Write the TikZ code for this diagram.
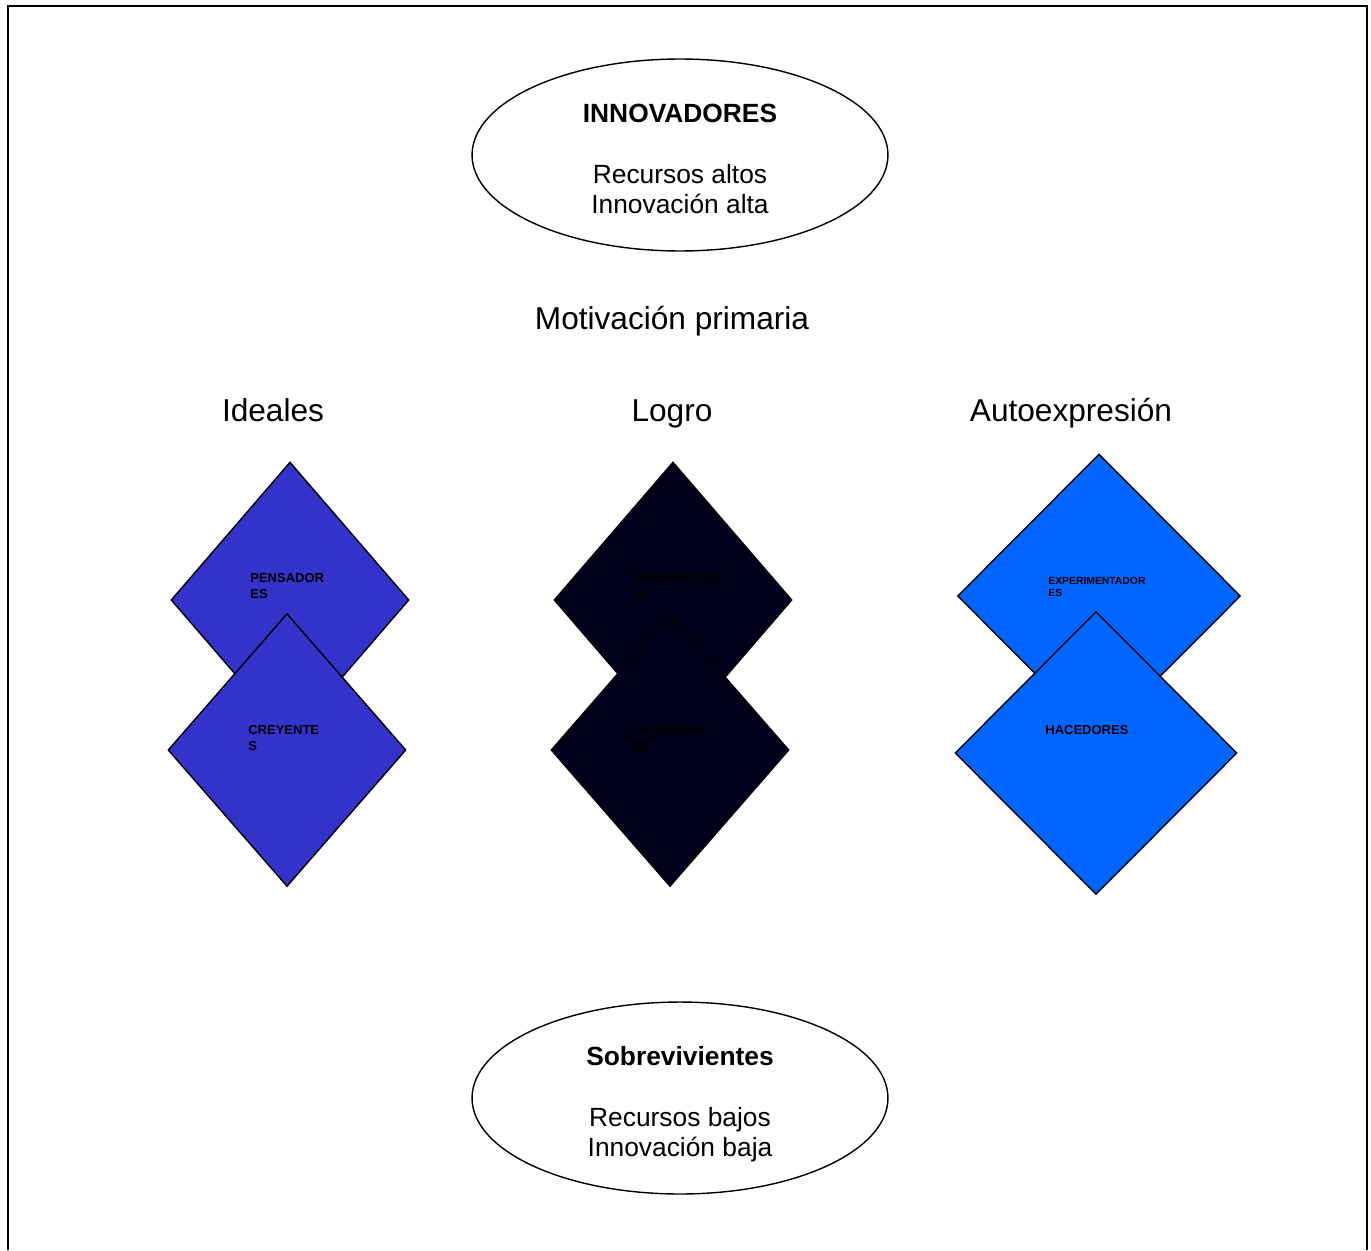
\documentclass[tikz,border=0pt]{standalone}
\usepackage{fontspec}
\setmainfont{Liberation Sans}
\usetikzlibrary{shapes.geometric}
\definecolor{ideales}{HTML}{3333CC}
\definecolor{logro}{HTML}{00001A}
\definecolor{autoexp}{HTML}{0066FF}
\begin{document}
\begin{tikzpicture}[x=0.02cm,y=-0.02cm,
  segmento/.style={ellipse,draw,line width=0.8pt,minimum width=8.32cm,minimum height=3.84cm},
  segtexto/.style={align=center,font=\fontsize{15}{17}\selectfont},
  titulo/.style={anchor=base,font=\fontsize{18}{21}\selectfont},
  rombo/.style={diamond,draw,line width=0.8pt,inner sep=0pt},
  tipo/.style={anchor=north west,inner sep=0pt,align=left,font=\fontsize{7.4}{9.1}\selectfont\bfseries}]
  \useasboundingbox (0,0) rectangle (1371,1250);
  \draw[line width=1.1pt] (8,1250) -- (8,6) -- (1367,6) -- (1367,1250);

  \node[segmento] (innov) at (680,155) {};
  \node[segtexto] (innovT) at (680,159) {\textbf{INNOVADORES}\\[18pt]Recursos altos\\Innovación alta};
  \node[segmento] (sobre) at (680,1098) {};
  \node[segtexto] (sobreT) at (680,1104) {\textbf{Sobrevivientes}\\[18pt]Recursos bajos\\Innovación baja};

  \node[titulo] (motiv) at (672,329) {Motivación primaria};
  \node[titulo] (ideal) at (273,421) {Ideales};
  \node[titulo] (logro) at (672,421) {Logro};
  \node[titulo] (autoe) at (1071,421) {Autoexpresión};

  \node[rombo,fill=ideales,minimum width=4.76cm,minimum height=5.52cm] (pens) at (290,600) {};
  \node[rombo,fill=ideales,minimum width=4.76cm,minimum height=5.46cm] (crey) at (287,750) {};
  \node[rombo,fill=logro,minimum width=4.76cm,minimum height=5.52cm] (triu) at (673,600) {};
  \node[rombo,fill=logro,minimum width=4.76cm,minimum height=5.46cm] (luch) at (670,750) {};
  \node[rombo,fill=autoexp,minimum width=5.66cm,minimum height=5.68cm] (expe) at (1099,596) {};
  \node[rombo,fill=autoexp,minimum width=5.64cm,minimum height=5.66cm] (hace) at (1096,753) {};

  \node[tipo] (pensT) at (250,573) {PENSADOR\\ES};
  \node[tipo] (creyT) at (248,725) {CREYENTE\\S};
  \node[tipo] (triuT) at (633,573) {TRIUNFADOR\\ES};
  \node[tipo] (luchT) at (631,725) {LUCHADOR\\ES};
  \node[tipo,font=\fontsize{5.9}{6.8}\selectfont\bfseries] (expeT) at (1048,577) {EXPERIMENTADOR\\ES};
  \node[tipo] (haceT) at (1045,725) {HACEDORES};
\end{tikzpicture}
\end{document}
